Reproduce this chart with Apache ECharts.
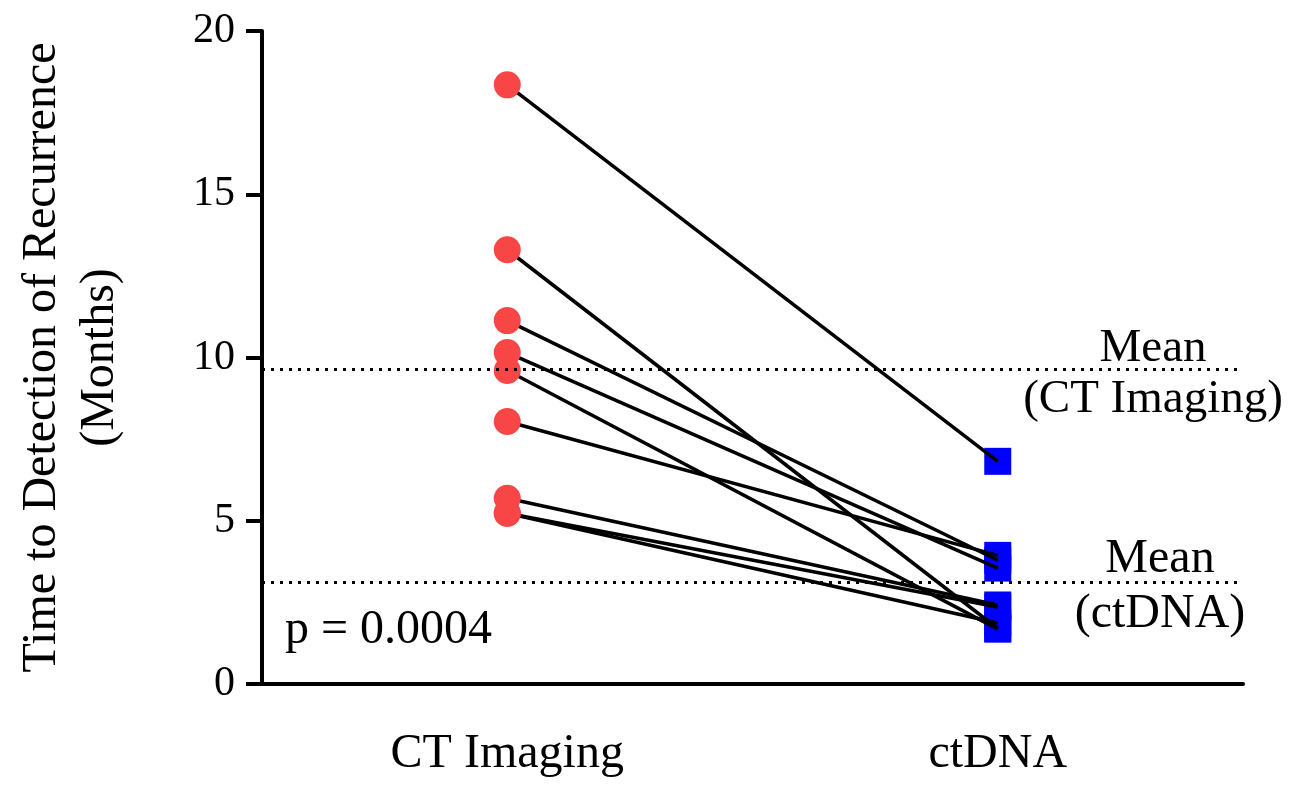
<!DOCTYPE html>
<html>
<head>
<meta charset="utf-8">
<script src="https://cdn.jsdelivr.net/npm/echarts@6/dist/echarts.min.js"></script>
<style>
html,body{margin:0;padding:0;background:#fff;}
#chart{width:1291px;height:786px;}
</style>
</head>
<body>
<div id="chart"></div>
<script>
var categories = ['CT Imaging', 'ctDNA'];
var ctImaging = [18.35, 13.3, 11.13, 10.15, 9.6, 8.04, 5.69, 5.23, 5.23];
var ctDNA = [6.82, 1.7, 3.79, 3.55, 1.68, 3.94, 2.42, 2.36, 1.87];
var yTicks = [0, 5, 10, 15, 20];
var pValueText = 'p = 0.0004';
var yName = 'Time to Detection of Recurrence\n(Months)';

var FONT = 'Liberation Serif';
function mean(a){ return a.reduce(function(s,v){return s+v;},0)/a.length; }
var ctMean = mean(ctImaging);
var dnaMean = mean(ctDNA);

var series = [];
// paired lines
for (var i = 0; i < ctImaging.length; i++) {
  series.push({
    type: 'line',
    data: [ctImaging[i], ctDNA[i]],
    symbol: 'none',
    silent: true,
    z: 3,
    lineStyle: {color: '#000', width: 3.5},
    animation: false
  });
}
var dotted = {color: '#000', width: 3, type: [3, 6], cap: 'butt'};
series.push({
  type: 'scatter',
  name: 'ctDNA',
  data: ctDNA.map(function(v){ return [categories[1], v]; }),
  symbol: 'rect',
  symbolSize: 27,
  itemStyle: {color: '#0000ff', opacity: 1},
  z: 2,
  animation: false,
  markLine: {
    silent: true,
    symbol: 'none',
    animation: false,
    lineStyle: dotted,
    label: {
      show: true,
      position: 'insideEnd',
      distance: -10,
      padding: [10, 0, 0, 0],
      formatter: '{a|Mean}\n{a|(ctDNA)}',
      rich: {a: {width: 186, align: 'center', fontSize: 48, lineHeight: 55, fontFamily: FONT, color: '#000'}}
    },
    data: [{yAxis: dnaMean}]
  }
});
series.push({
  type: 'scatter',
  name: 'CT Imaging',
  data: ctImaging.map(function(v){ return [categories[0], v]; }),
  symbol: 'circle',
  symbolSize: 27,
  itemStyle: {color: '#f84545', opacity: 1},
  z: 4,
  animation: false,
  markLine: {
    silent: true,
    symbol: 'none',
    animation: false,
    lineStyle: dotted,
    label: {
      show: true,
      position: 'insideEnd',
      distance: -38,
      padding: [10, 0, 0, 0],
      formatter: '{a|Mean}\n{a|(CT Imaging)}',
      rich: {a: {width: 256, align: 'center', fontSize: 47, lineHeight: 51, fontFamily: FONT, color: '#000'}}
    },
    data: [{yAxis: ctMean}]
  }
});

var chart = echarts.init(document.getElementById('chart'), null, {renderer: 'canvas'});
chart.setOption({
  animation: false,
  backgroundColor: '#fff',
  title: {
    text: pValueText,
    left: 285, top: 606, padding: 0,
    textStyle: {fontFamily: FONT, fontSize: 48, fontWeight: 'normal', color: '#000'}
  },
  grid: {left: 262, right: 48, top: 31, bottom: 102},
  xAxis: {
    type: 'category',
    data: categories,
    boundaryGap: true,
    axisLine: {lineStyle: {color: '#000', width: 4}},
    axisTick: {alignWithLabel: true, length: 16, lineStyle: {color: '#000', width: 4}},
    axisLabel: {margin: 46, fontSize: 48, fontFamily: FONT, color: '#000'}
  },
  yAxis: {
    type: 'value',
    min: yTicks[0], max: yTicks[yTicks.length-1], interval: 5,
    name: yName,
    nameLocation: 'middle',
    nameGap: 133,
    nameRotate: 90,
    nameTextStyle: {fontFamily: FONT, fontSize: 48, lineHeight: 58, color: '#000', align: 'center'},
    axisLine: {show: true, lineStyle: {color: '#000', width: 4}},
    axisTick: {show: true, length: 16, lineStyle: {color: '#000', width: 4}},
    axisLabel: {margin: 27, fontSize: 42, fontFamily: FONT, color: '#000'},
    splitLine: {show: false}
  },
  series: series
});
</script>
</body>
</html>
